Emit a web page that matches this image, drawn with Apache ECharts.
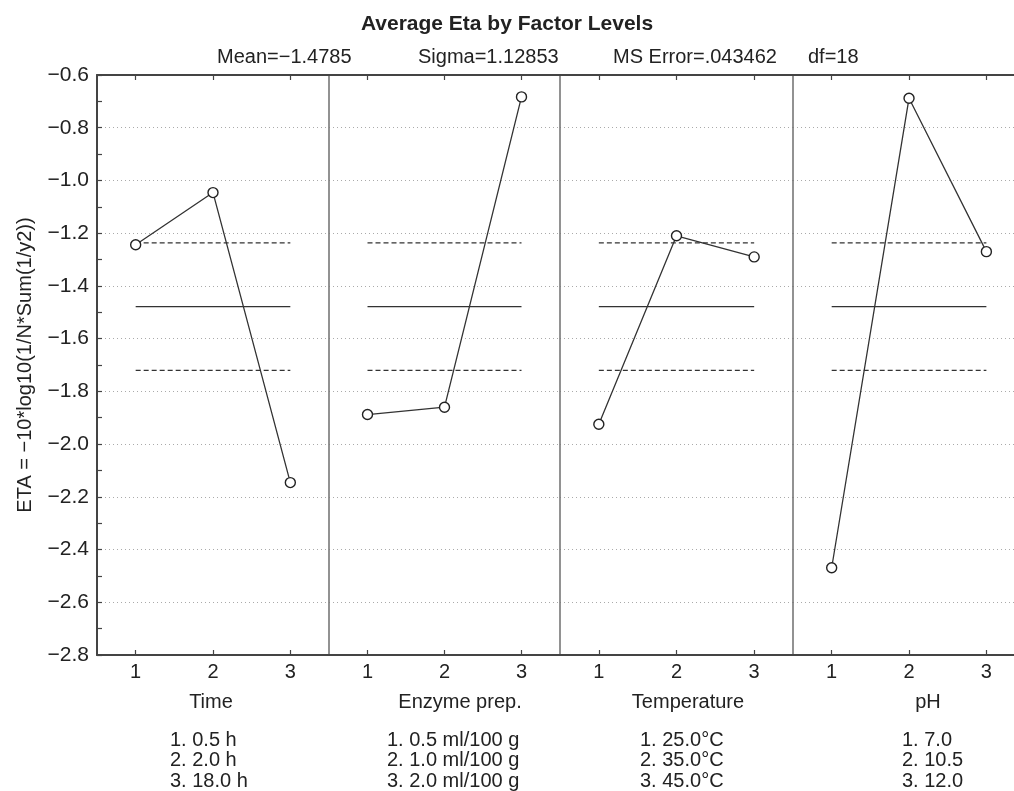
<!DOCTYPE html>
<html>
<head>
<meta charset="utf-8">
<script src="https://cdn.jsdelivr.net/npm/echarts@6/dist/echarts.min.js"></script>
<style>
html,body{margin:0;padding:0;background:#fff;}
#chart{width:1014px;height:791px;}
</style>
</head>
<body>
<div id="chart"></div>
<script>
// ---- data ----
var levelTicks = [1, 2, 3];
var factorNames = ['Time', 'Enzyme prep.', 'Temperature', 'pH'];
var factorLevels = [
  ['1. 0.5 h', '2. 2.0 h', '3. 18.0 h'],
  ['1. 0.5 ml/100 g', '2. 1.0 ml/100 g', '3. 2.0 ml/100 g'],
  ['1. 25.0\u00b0C', '2. 35.0\u00b0C', '3. 45.0\u00b0C'],
  ['1. 7.0', '2. 10.5', '3. 12.0']
];
var timeEta = [-1.244, -1.046, -2.146];
var enzymeEta = [-1.888, -1.860, -0.683];
var temperatureEta = [-1.925, -1.210, -1.290];
var phEta = [-2.469, -0.688, -1.270];
var meanEta = -1.4785;
var upperLimit = -1.2365;
var lowerLimit = -1.7205;
var yMin = -2.8, yMax = -0.6, yStep = 0.2;
var statsTexts = ['Mean=\u22121.4785', 'Sigma=1.12853', 'MS Error=.043462', 'df=18'];
var titleText = 'Average Eta by Factor Levels';
var yAxisTitle = 'ETA = \u221210*log10(1/N*Sum(1/y2))';

// ---- layout ----
var FONT = '"Liberation Sans", Arial, Helvetica, sans-serif';
var panelLeft = [97, 329, 560, 793];
var panelWidth = [232, 231, 233, 221];
var xMax = [3.5, 3.5, 3.5, 3.357];
var nameX = [211, 460, 688, 928];
var levelX = [170, 387, 640, 902];
var statsX = [217, 418, 613, 808];
var allEta = [timeEta, enzymeEta, temperatureEta, phEta];

function fmt(v) {
  var s = v.toFixed(1);
  return s.replace('-', '\u2212');
}
function pairs(vals) {
  return levelTicks.map(function (t, idx) { return [t, vals[idx]]; });
}
function flat(v) {
  return levelTicks.map(function (t) { return [t, v]; });
}

var grids = [], xAxes = [], yAxes = [], series = [];
for (var i = 0; i < 4; i++) {
  grids.push({left: panelLeft[i], width: panelWidth[i], top: 75, bottom: 136, containLabel: false});
  ['bottom', 'top'].forEach(function (pos) {
    xAxes.push({
      type: 'value', gridIndex: i, min: 0.5, max: xMax[i], position: pos,
      axisLine: {show: true, onZero: false, lineStyle: {color: '#444', width: 2}},
      axisTick: {show: true, inside: true, length: 5, customValues: levelTicks, lineStyle: {color: '#444', width: 1.2}},
      axisLabel: {show: pos === 'bottom', customValues: levelTicks, color: '#222', fontSize: 20, fontFamily: FONT, margin: 7},
      splitLine: {show: false}
    });
  });
  var first = (i === 0);
  yAxes.push({
    type: 'value', gridIndex: i, min: yMin, max: yMax, interval: yStep,
    name: first ? yAxisTitle : '',
    nameLocation: 'middle', nameGap: 62,
    nameTextStyle: {color: '#222', fontSize: 20, fontFamily: FONT},
    axisLine: {show: true, onZero: false, lineStyle: {color: first ? '#444' : '#777', width: first ? 2 : 1.6}},
    axisTick: {show: first, inside: true, length: 5, lineStyle: {color: '#444', width: 1.2}},
    minorTick: {show: first, splitNumber: 2, length: 5, lineStyle: {color: '#444', width: 1.2}},
    axisLabel: {show: first, color: '#222', fontSize: 21, fontFamily: FONT, margin: 8, formatter: fmt},
    splitLine: {show: true, lineStyle: {color: '#aaa', width: 1, type: [1, 3]}}
  });
  var refLine = function (v, dashed, name) {
    return {
      type: 'line', name: name, xAxisIndex: i * 2, yAxisIndex: i,
      data: flat(v), symbol: 'none', silent: true, z: 2,
      lineStyle: {color: '#333', width: 1.3, type: dashed ? [5, 3] : 'solid'}
    };
  };
  series.push(refLine(upperLimit, true, 'upper'));
  series.push(refLine(meanEta, false, 'mean'));
  series.push(refLine(lowerLimit, true, 'lower'));
  series.push({
    type: 'line', name: factorNames[i], xAxisIndex: i * 2, yAxisIndex: i,
    data: pairs(allEta[i]), symbol: 'circle', symbolSize: 10, z: 5,
    lineStyle: {color: '#333', width: 1.3},
    itemStyle: {color: '#fff', borderColor: '#222', borderWidth: 1.4}
  });
}

var graphics = [];
graphics.push({type: 'text', left: 'center', top: 14, style: {text: titleText, fill: '#222', font: 'bold 21px ' + FONT}});
for (var k = 0; k < statsTexts.length; k++) {
  graphics.push({type: 'text', x: statsX[k], y: 47, style: {text: statsTexts[k], fill: '#222', font: '20px ' + FONT}});
}
for (var j = 0; j < 4; j++) {
  graphics.push({type: 'text', x: nameX[j], y: 702, style: {text: factorNames[j], fill: '#222', font: '20px ' + FONT, align: 'center', verticalAlign: 'middle'}});
  for (var m = 0; m < 3; m++) {
    graphics.push({type: 'text', x: levelX[j], y: 740 + m * 20.5, style: {text: factorLevels[j][m], fill: '#222', font: '20px ' + FONT, align: 'left', verticalAlign: 'middle'}});
  }
}

var chart = echarts.init(document.getElementById('chart'), null, {renderer: 'canvas'});
chart.setOption({
  backgroundColor: '#fff',
  animation: false,
  grid: grids,
  xAxis: xAxes,
  yAxis: yAxes,
  series: series,
  graphic: graphics
});
</script>
</body>
</html>
